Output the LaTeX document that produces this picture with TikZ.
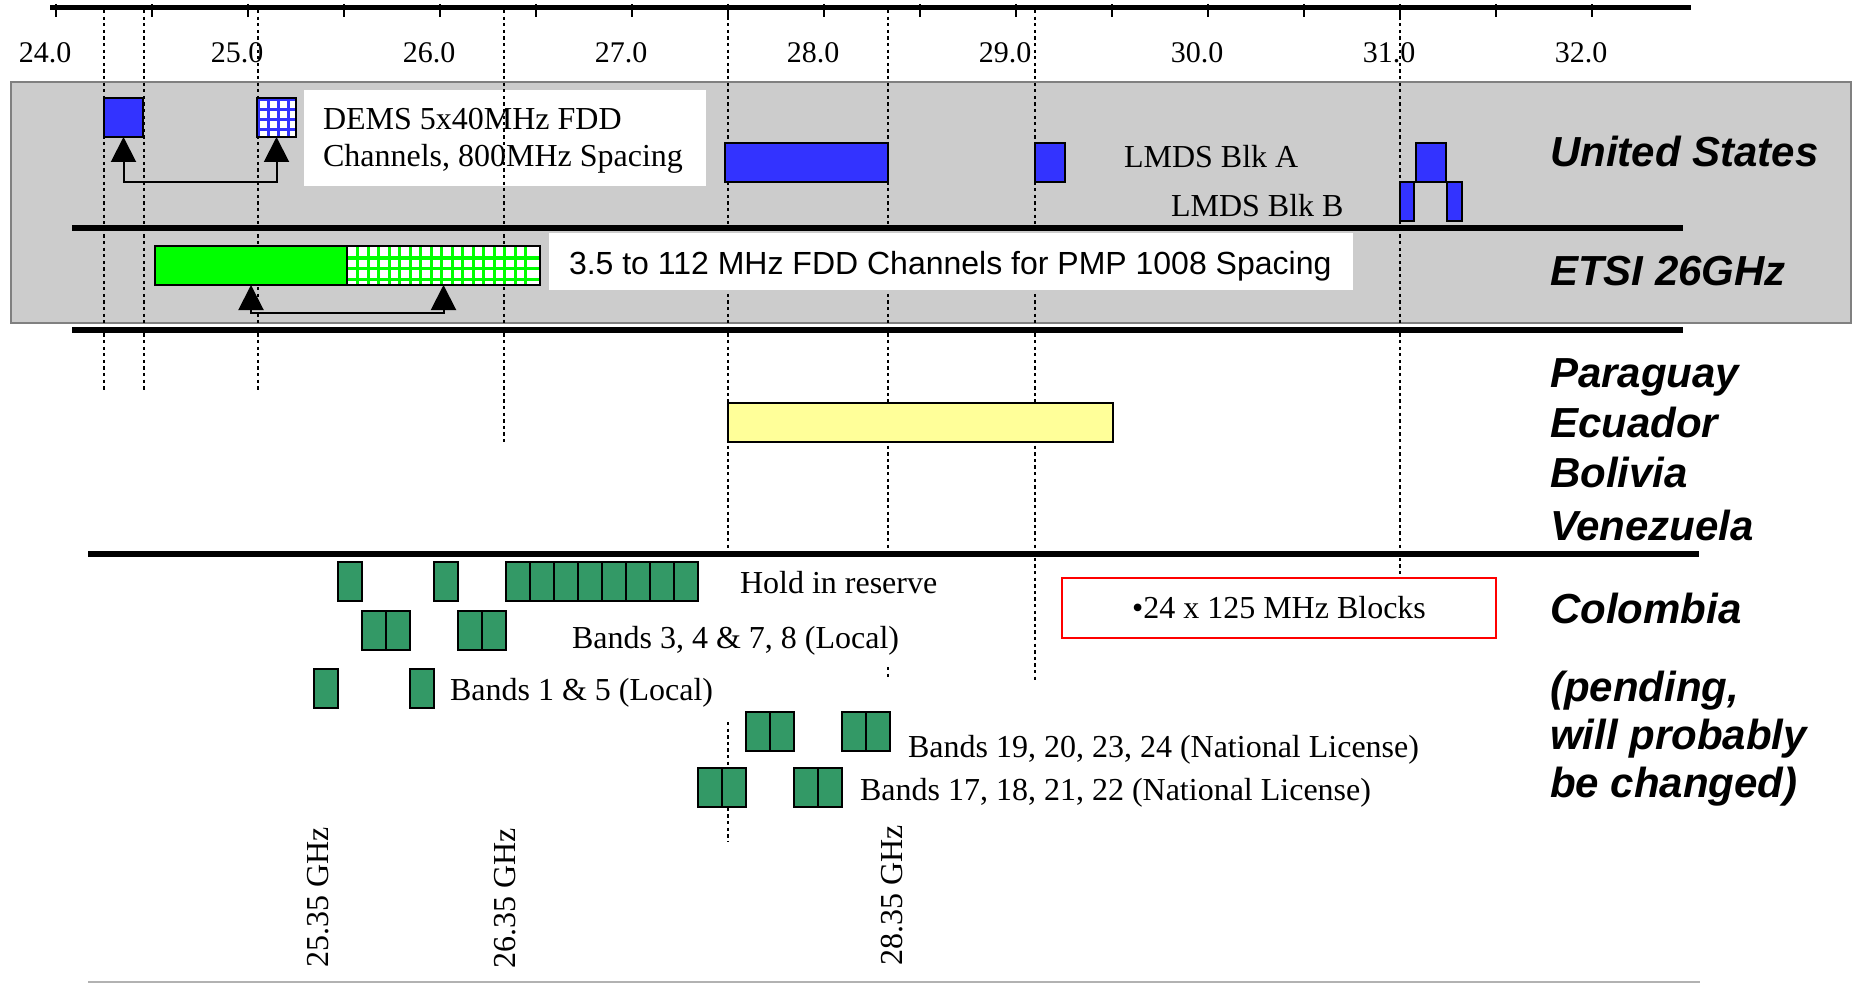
\documentclass[tikz,border=0pt]{standalone}
\usepackage{fontspec}
\setmainfont{Liberation Serif}
\setsansfont{Liberation Sans}
\usetikzlibrary{arrows.meta}

\definecolor{usblue}{HTML}{3333FF}
\definecolor{etsigreen}{HTML}{00FF00}
\definecolor{colgreen}{HTML}{339966}
\definecolor{andyellow}{HTML}{FFFF99}
\definecolor{panelgray}{HTML}{CCCCCC}
\definecolor{panelline}{HTML}{808080}

\begin{document}
\begin{tikzpicture}
  [x=1pt, y=-1pt, every node/.style={inner sep=0, outer sep=0},
   band/.style={draw, line width=2pt, minimum width=39, minimum height=39, anchor=north west},
   usband/.style={band, fill=usblue},
   colband/.style={band, fill=colgreen, minimum width=24},
   guide/.style={line width=2.2pt, dash pattern=on 3.3pt off 3.3pt},
   divider/.style={line width=6pt},
   spread/.style={line width=2pt, arrows={Triangle[width=25pt,length=25pt]-Triangle[width=25pt,length=25pt]}},
   axlbl/.style={font=\fontsize{30}{36}\selectfont, anchor=base},
   lbl/.style={font=\fontsize{32}{38}\selectfont, anchor=base west},
   ghz/.style={font=\fontsize{32}{38}\selectfont, anchor=base, rotate=90},
   country/.style={font=\sffamily\bfseries\itshape\fontsize{42}{50}\selectfont, anchor=base west}]

  \useasboundingbox (0,0) rectangle (1854,984);

  \draw[line width=5pt] (50,8) -- (1691,8);
  \foreach \k in {0,...,16}
    \draw[line width=1.5pt] ({56+96*\k},4) -- ({56+96*\k},17);
  \foreach \k/\freq in {0/24.0,1/25.0,2/26.0,3/27.0,4/28.0,5/29.0,6/30.0,7/31.0,8/32.0}
    \node[axlbl] (f\k) at ({45+192*\k},63) {\freq};

  \draw[line width=2pt, draw=panelline, fill=panelgray] (11,82) rectangle (1851,323);
  \node[fill=white, minimum width=402, minimum height=96, anchor=north west] (demsnote) at (304,90) {};

  \draw[guide] (104,10) -- (104,392);
  \draw[guide] (144,10) -- (144,392);
  \draw[guide] (258,10) -- (258,392);
  \draw[guide] (504,10) -- (504,442);
  \draw[guide] (728,10) -- (728,553);
  \draw[guide] (728,722) -- (728,842);
  \draw[guide] (888,10) -- (888,553);
  \draw[guide] (888,667) -- (888,680);
  \draw[guide] (1035,10) -- (1035,680);
  \draw[guide] (1400,10) -- (1400,577);

  \node[lbl] (demstop) at (323,130) {DEMS 5x40MHz FDD};
  \node[lbl] (demsbot) at (323,167) {Channels, 800MHz Spacing};

  \node[usband] (demslo) at (104,98) {};
  \node[band, fill=white] (demshi) at (257,98) {};
  \foreach \x in {258.5,268.5,278.5,288.5}
    \draw[usblue, line width=3pt] (\x,99) -- (\x,136);
  \foreach \y in {100,110,120,130}
    \draw[usblue, line width=3pt] (258,\y) -- (296,\y);
  \draw[line width=2pt] (demshi.north west) rectangle (demshi.south east);
  \draw[spread] (demslo.south) -- ++(0,45) -| (demshi.south);

  \node[usband, minimum width=163] (lmdswide) at (725,143) {};
  \node[usband, minimum width=30] (lmdsa) at (1035,143) {};
  \node[usband, minimum width=30] (lmdsa2) at (1416,143) {};
  \node[usband, minimum width=14] (lmdsb) at (1400,182) {};
  \node[usband, minimum width=15] (lmdsb2) at (1447,182) {};
  \node[lbl] (lmdsatxt) at (1124,168) {LMDS Blk A};
  \node[lbl] (lmdsbtxt) at (1171,217) {LMDS Blk B};

  \draw[divider] (72,228) -- (1683,228);
  \draw[divider] (72,330) -- (1683,330);
  \draw[divider] (88,554) -- (1699,554);
  \draw[line width=2pt, draw=gray!60] (88,982) -- (1700,982);

  \node[band, fill=etsigreen, minimum width=192] (etsilo) at (155,246) {};
  \node[band, fill=white, minimum width=193] (etsihi) at (347,246) {};
  \foreach \x in {357.7,368.2,...,536}
    \draw[etsigreen, line width=3.4pt] (\x,247) -- (\x,284);
  \foreach \y in {258,268.6,279.2}
    \draw[etsigreen, line width=3.4pt] (348,\y) -- (539,\y);
  \draw[line width=2pt] (etsihi.north west) rectangle (etsihi.south east);
  \draw[spread] (etsilo.south) -- ++(0,28) -| (etsihi.south);

  \node[fill=white, minimum width=804, minimum height=57, anchor=north west] (etsinote) at (549,233) {};
  \node[lbl, font=\sffamily\fontsize{32}{38}\selectfont] (etsitxt) at (569,275) {3.5 to 112 MHz FDD Channels for PMP 1008 Spacing};

  \node[band, fill=andyellow, minimum width=385] (andes) at (728,403) {};

  \foreach \b in {2,6,9,10,11,12,13,14,15,16}
    \node[colband] (b\b) at ({314+24*(\b-1)},562) {};
  \foreach \b in {3,4,7,8}
    \node[colband] (b\b) at ({314+24*(\b-1)},611) {};
  \foreach \b in {1,5}
    \node[colband] (b\b) at ({314+24*(\b-1)},669) {};
  \foreach \b in {19,20,23,24}
    \node[colband] (b\b) at ({314+24*(\b-1)},712) {};
  \foreach \b in {17,18,21,22}
    \node[colband] (b\b) at ({314+24*(\b-1)},768) {};

  \node[lbl] (holdtxt) at (740,593) {Hold in reserve};
  \node[lbl] (localb) at (572,648) {Bands 3, 4 \& 7, 8 (Local)};
  \node[lbl] (locala) at (450,700) {Bands 1 \& 5 (Local)};
  \node[lbl] (natb) at (908,757) {Bands 19, 20, 23, 24 (National License)};
  \node[lbl] (nata) at (860,800) {Bands 17, 18, 21, 22 (National License)};

  \node[draw=red, line width=2pt, minimum width=434, minimum height=60, font=\fontsize{32}{38}\selectfont] (blocks) at (1279,608) {\textbullet 24 x 125 MHz Blocks};

  \node[ghz] (g2535) at (328,897) {25.35 GHz};
  \node[ghz] (g2635) at (515,898) {26.35 GHz};
  \node[ghz] (g2835) at (902,895) {28.35 GHz};

  \node[country] (us) at (1550,167) {United States};
  \node[country] (etsi) at (1550,285) {ETSI 26GHz};
  \node[country] (par) at (1550,387) {Paraguay};
  \node[country] (ecu) at (1550,437) {Ecuador};
  \node[country] (bol) at (1550,487) {Bolivia};
  \node[country] (ven) at (1550,540) {Venezuela};
  \node[country] (col) at (1550,623) {Colombia};
  \node[country] (pend1) at (1550,701) {(pending,};
  \node[country] (pend2) at (1550,749) {will probably};
  \node[country] (pend3) at (1550,797) {be changed)};
\end{tikzpicture}
\end{document}
